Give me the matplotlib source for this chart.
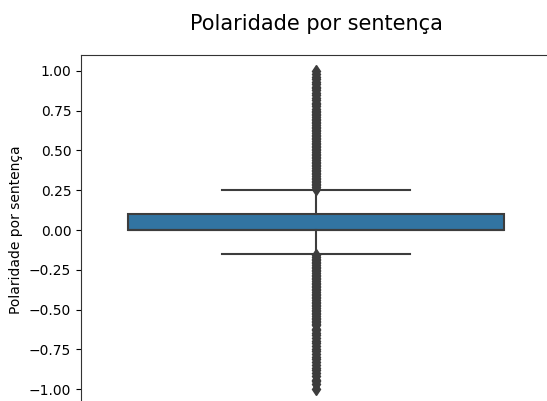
import matplotlib
matplotlib.use("Agg")
import matplotlib.pyplot as plt

# Box statistics
q1 = 0.0
median = 0.0
q3 = 0.10
whisker_low = -0.15
whisker_high = 0.25

upper_fliers = [0.26, 0.27, 0.28, 0.29, 0.30, 0.31, 0.32, 0.33, 0.34, 0.35,
                0.36, 0.37, 0.38, 0.39, 0.40, 0.41, 0.42, 0.43, 0.44, 0.45,
                0.46, 0.47, 0.48, 0.49, 0.50, 0.51, 0.52, 0.53, 0.54, 0.55,
                0.56, 0.57, 0.58, 0.59, 0.60, 0.61, 0.62, 0.63, 0.64, 0.65,
                0.66, 0.67, 0.68, 0.69, 0.70, 0.71, 0.72, 0.73, 0.74, 0.75,
                0.76, 0.78, 0.79, 0.80, 0.82, 0.83, 0.85, 0.86, 0.88, 0.89,
                0.90, 0.92, 0.93, 0.95, 0.96, 0.98, 1.00]
lower_fliers = [-0.16, -0.17, -0.18, -0.19, -0.20, -0.21, -0.22, -0.23, -0.24, -0.25,
                -0.26, -0.27, -0.28, -0.29, -0.30, -0.31, -0.32, -0.33, -0.34, -0.35,
                -0.36, -0.37, -0.38, -0.39, -0.40, -0.41, -0.42, -0.43, -0.44, -0.45,
                -0.46, -0.47, -0.48, -0.49, -0.50, -0.51, -0.52, -0.53, -0.54, -0.55,
                -0.56, -0.57, -0.58, -0.59, -0.60, -0.62, -0.63, -0.65, -0.66, -0.68,
                -0.70, -0.71, -0.73, -0.75, -0.76, -0.78, -0.80, -0.81, -0.83, -0.85,
                -0.87, -0.88, -0.90, -0.92, -0.94, -0.95, -0.97, -1.00]

title_text = "Polaridade por sentença"
ylabel_text = "Polaridade por sentença"
yticks = [-1.00, -0.75, -0.50, -0.25, 0.00, 0.25, 0.50, 0.75, 1.00]

box_color = "#3274a1"
line_color = "#3d3d3d"

fig = plt.figure(figsize=(5.47, 4.01), dpi=100)
ax = fig.add_axes([81 / 547, -4 / 401, 470 / 547, 350 / 401])

stats = [dict(q1=q1, med=median, q3=q3, whislo=whisker_low, whishi=whisker_high,
              fliers=upper_fliers + lower_fliers, label="")]
ax.bxp(stats, positions=[0], widths=0.8, patch_artist=True, showfliers=True,
       boxprops=dict(facecolor=box_color, edgecolor=line_color, linewidth=1.5),
       medianprops=dict(color=line_color, linewidth=1.5),
       whiskerprops=dict(color=line_color, linewidth=1.5),
       capprops=dict(color=line_color, linewidth=1.5),
       flierprops=dict(marker="d", markersize=6.5, markerfacecolor=line_color,
                       markeredgecolor=line_color, linestyle="none"))

ax.set_xlim(-0.5, 0.5)
ax.set_ylim(-1.1, 1.1)
ax.set_yticks(yticks)
ax.set_yticklabels([f"{t:.2f}".replace("-", "\u2212") for t in yticks], fontsize=10)
ax.set_xticks([])
for s in ax.spines.values():
    s.set_color("#333333")
ax.set_ylabel(ylabel_text, fontsize=10)
ax.set_title(title_text, fontsize=15, pad=18)

fig.savefig("out.png", dpi=100)
